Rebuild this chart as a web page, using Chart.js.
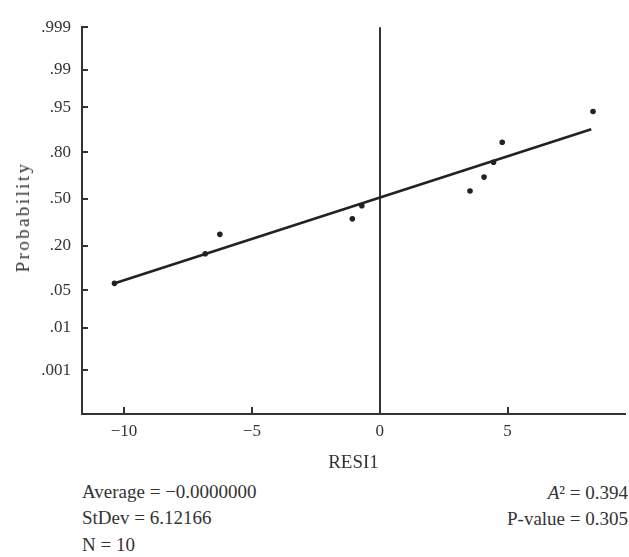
<!DOCTYPE html>
<html>
<head>
<meta charset="utf-8">
<script src="https://cdn.jsdelivr.net/npm/chart.js@4.4.1/dist/chart.umd.min.js"></script>
<style>
  body { margin: 0; background: #fff; }
  #wrap { position: relative; width: 629px; height: 557px; font-family: 'Liberation Serif', 'DejaVu Serif', serif; color: #333; }
  #plot { position: absolute; left: 0; top: 0; }
  .stat { position: absolute; font-size: 19px; line-height: 20px; white-space: nowrap; }
  .left { left: 82px; }
  .right { right: 1px; text-align: right; }
  #ytitle { position: absolute; left: 23px; top: 217px; font-size: 19px; letter-spacing: 2.4px;
            white-space: nowrap; transform: translate(-50%, -50%) rotate(-90deg); }
</style>
</head>
<body>
<div id="wrap">
  <canvas id="plot" width="629" height="478"></canvas>
  <div id="ytitle">Probability</div>
  <div class="stat left" style="top:482px">Average = −0.0000000</div>
  <div class="stat left" style="top:508px">StDev = 6.12166</div>
  <div class="stat left" style="top:535px">N = 10</div>
  <div class="stat right" style="top:483px"><i>A</i>² = 0.394</div>
  <div class="stat right" style="top:509px">P-value = 0.305</div>
</div>
<script>
// residuals and their plotted probabilities
var resid = [-10.37, -6.82, -6.25, -1.07, -0.70, 3.53, 4.08, 4.45, 4.79, 8.34];
var prob = [0.064, 0.161, 0.261, 0.359, 0.450, 0.556, 0.652, 0.745, 0.846, 0.942];

// fitted line ends
var fitX = [-10.42, 8.27];
var fitProb = [0.063, 0.895];

// ticks
var xTicks = [-10, -5, 0, 5];
var xTickLabels = ['−10', '−5', '0', '5'];
var probTicks = [0.999, 0.99, 0.95, 0.80, 0.50, 0.20, 0.05, 0.01, 0.001];
var probTickLabels = ['.999', '.99', '.95', '.80', '.50', '.20', '.05', '.01', '.001'];

// normal probability scale: probability -> z (Acklam's approximation)
function probit(p) {
    var a = [-3.969683028665376e+01, 2.209460984245205e+02, -2.759285104469687e+02, 1.383577518672690e+02, -3.066479806614716e+01, 2.506628277459239e+00];
    var b = [-5.447609879822406e+01, 1.615858368580409e+02, -1.556989798598866e+02, 6.680131188771972e+01, -1.328068155288572e+01];
    var c = [-7.784894002430293e-03, -3.223964580411365e-01, -2.400758277161838e+00, -2.549732466771641e+00, 4.374664141464968e+00, 2.938163982698783e+00];
    var d = [7.784695709041462e-03, 3.224671290700398e-01, 2.445134137142996e+00, 3.754408661907416e+00];
    var pl = 0.02425, q, r;
    if (p < pl) {
        q = Math.sqrt(-2 * Math.log(p));
        return (((((c[0]*q+c[1])*q+c[2])*q+c[3])*q+c[4])*q+c[5]) / ((((d[0]*q+d[1])*q+d[2])*q+d[3])*q+1);
    }
    if (p > 1 - pl) {
        q = Math.sqrt(-2 * Math.log(1 - p));
        return -(((((c[0]*q+c[1])*q+c[2])*q+c[3])*q+c[4])*q+c[5]) / ((((d[0]*q+d[1])*q+d[2])*q+d[3])*q+1);
    }
    q = p - 0.5; r = q * q;
    return (((((a[0]*r+a[1])*r+a[2])*r+a[3])*r+a[4])*r+a[5])*q / (((((b[0]*r+b[1])*r+b[2])*r+b[3])*r+b[4])*r+1);
}

var serif = "'Liberation Serif', 'DejaVu Serif', serif";
var ink = '#333';

var ctx = document.getElementById('plot').getContext('2d');
var chart = new Chart(ctx, {
    type: 'scatter',
    data: {
        datasets: [{
            label: 'RESI1',
            data: resid.map(function (x, i) { return {x: x, y: probit(prob[i])}; }),
            backgroundColor: '#222',
            borderWidth: 0,
            pointRadius: 2.8,
            order: 1
        }, {
            label: 'fit',
            data: fitX.map(function (x, i) { return {x: x, y: probit(fitProb[i])}; }),
            showLine: true,
            borderColor: '#222',
            borderWidth: 2.6,
            pointRadius: 0,
            order: 2
        }]
    },
    options: {
        responsive: false,
        animation: false,
        layout: { padding: { top: 24, right: 0, bottom: 0, left: 0 } },
        plugins: { legend: { display: false }, tooltip: { enabled: false } },
        scales: {
            x: {
                type: 'linear',
                min: -11.64,
                max: 9.59,
                afterBuildTicks: function (scale) {
                    scale.ticks = xTicks.map(function (v) { return {value: v}; });
                },
                afterFit: function (scale) { scale.height = 64; },
                border: { color: ink, width: 2 },
                grid: {
                    drawOnChartArea: true,
                    color: function (c) { return c.tick && c.tick.value === 0 ? ink : 'rgba(0,0,0,0)'; },
                    lineWidth: 2,
                    tickColor: ink,
                    tickLength: -7
                },
                ticks: {
                    padding: 14,
                    color: ink,
                    font: { family: serif, size: 17 },
                    callback: function (v, i) { return xTickLabels[i]; }
                },
                title: {
                    display: true,
                    text: 'RESI1',
                    color: ink,
                    font: { family: serif, size: 19 },
                    padding: { top: 0, bottom: 4 }
                }
            },
            y: {
                type: 'linear',
                min: -3.875,
                max: probit(0.999),
                afterBuildTicks: function (scale) {
                    scale.ticks = probTicks.map(function (p) { return {value: probit(p)}; });
                },
                afterFit: function (scale) { scale.width = 82; },
                border: { color: ink, width: 2 },
                grid: {
                    drawOnChartArea: false,
                    lineWidth: 2,
                    tickColor: ink,
                    tickLength: -6
                },
                ticks: {
                    padding: 17,
                    color: ink,
                    font: { family: serif, size: 17 },
                    callback: function (v, i) { return probTickLabels[i]; }
                }
            }
        }
    }
});
</script>
</body>
</html>
